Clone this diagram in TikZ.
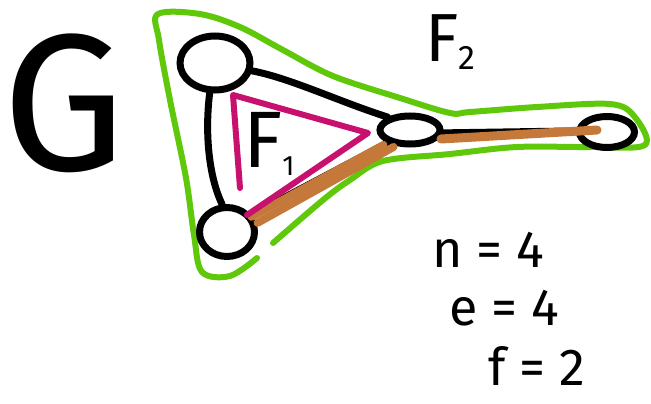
\documentclass[tikz,border=0pt]{standalone}
\usepackage{fontspec}
\setmainfont{Fira Sans}
\usetikzlibrary{shapes.geometric,calc}
\definecolor{gr}{RGB}{95,200,10}
\definecolor{mag}{RGB}{200,16,110}
\definecolor{brn}{RGB}{196,120,58}
\begin{document}
\begin{tikzpicture}[x=1pt,y=-1pt,
  vtx/.style={ellipse,draw=black,line width=7pt,inner sep=0pt},
  edg/.style={draw=black,line width=7pt,line cap=round},
  hl/.style={draw=brn,line width=8pt,line cap=round},
  face/.style={line width=6pt,line cap=round,line join=round},
  lbl/.style={inner sep=0pt,text=black}]
\useasboundingbox (0,0) rectangle (651,404);
% green outer face boundary
\draw[face,gr] plot[smooth,tension=0.55] coordinates {
  (257,258) (230,276) (202,272) (194,235) (186,178) (170,100) (159,40) (158,14)
  (200,14) (240,27) (283,50) (333,76) (400,98) (450,113) (470,112) (537,107)
  (610,104) (634,116) (645,145) (590,147) (517,147) (450,154) (383,161) (350,180)
  (323,200) (273,243)};
% vertices
\node[vtx,minimum width=70pt,minimum height=54pt] (A) at (215,63) {};
\node[vtx,minimum width=55pt,minimum height=49pt] (B) at (227,232) {};
\node[vtx,minimum width=60pt,minimum height=28pt] (C) at (410,130) {};
\node[vtx,minimum width=55pt,minimum height=31pt] (D) at (607,132) {};
% edges
\draw[edg] (A.-12) .. controls (290,78) and (340,102) .. (C.150);
\draw[edg] (A.-100) .. controls (205,130) and (208,175) .. (B.100);
\draw[edg] (B.35) -- (C.-150);
\draw[edg] (C.-5) -- (D.178);
% highlighted edges
\draw[hl] ($(B.35)+(0,2)$) -- ($(C.-150)+(-4,2)$);
\draw[hl] ($(B.35)+(6,8)$) -- ($(C.-150)+(6,4)$);
\draw[hl,line width=9pt] (441,139) -- (597,130);
% inner face marker
\draw[face,mag] (240,188) -- (233,95) -- (368,133) -- (247,215);
% labels
\node[lbl] (G) at (64,103) {\fontsize{195}{195}\selectfont G};
\node[lbl,anchor=base west] (F2) at (425,62) {\fontsize{68}{68}\selectfont F\raisebox{-8pt}{\fontsize{34}{34}\selectfont 2}};
\node[lbl,anchor=base west] (F1) at (243,167) {\fontsize{80}{80}\selectfont F\raisebox{-8pt}{\fontsize{28}{28}\selectfont 1}};
\node[lbl] (n) at (488,250) {\fontsize{52}{52}\selectfont n = 4};
\node[lbl] (e) at (504,308) {\fontsize{52}{52}\selectfont e = 4};
\node[lbl] (f) at (537,366) {\fontsize{52}{52}\selectfont f = 2};
\end{tikzpicture}
\end{document}
